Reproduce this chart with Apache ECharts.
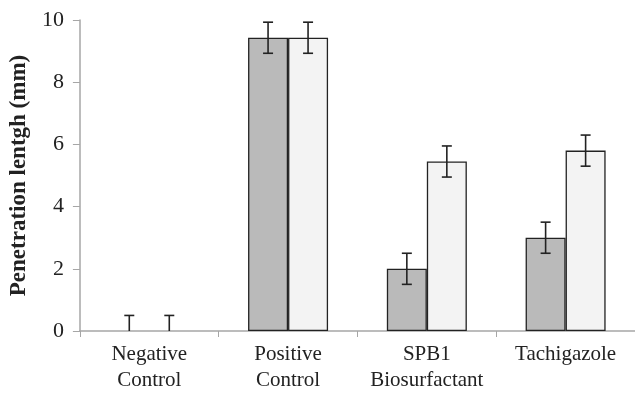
<!DOCTYPE html>
<html>
<head>
<meta charset="utf-8">
<script src="https://cdn.jsdelivr.net/npm/echarts@6/dist/echarts.min.js"></script>
<style>
  html, body { margin: 0; padding: 0; background: #fff; }
  #chart { width: 635px; height: 393px; }
</style>
</head>
<body>
<div id="chart"></div>
<script>
// values
const categories = ['Negative\nControl', 'Positive\nControl', 'SPB1\nBiosurfactant', 'Tachigazole']
const darkValues = [0, 9.43, 2.0, 3.0]
const darkErrors = [0.5, 0.5, 0.5, 0.5]
const lightValues = [0, 9.43, 5.45, 5.8]
const lightErrors = [0.5, 0.5, 0.5, 0.5]
const yTicks = [0, 2, 4, 6, 8, 10]

const BAR_W = 40
const font = 'Liberation Serif, Times New Roman, serif'

// zero-height bars get no outline, like the original
function barData (values) {
    return values.map(v => v === 0 ? { value: v, itemStyle: { borderWidth: 0 } } : v)
}

function errorSeries (values, errors, offset) {
    return {
        type: 'custom',
        silent: true,
        z: 10,
        data: values.map((v, i) => [i, v, errors[i]]),
        renderItem (params, api) {
            const idx = api.value(0)
            const v = api.value(1)
            const e = api.value(2)
            const lo = Math.max(0, v - e)
            const top = api.coord([idx, v + e])
            const bot = api.coord([idx, lo])
            const x = top[0] + offset
            const half = 5
            const style = { stroke: '#222', lineWidth: 1.6 }
            const children = [
                { type: 'line', shape: { x1: x, y1: top[1], x2: x, y2: bot[1] }, style },
                { type: 'line', shape: { x1: x - half, y1: top[1], x2: x + half, y2: top[1] }, style }
            ]
            if (v - e > 0) {
                children.push({ type: 'line', shape: { x1: x - half, y1: bot[1], x2: x + half, y2: bot[1] }, style })
            }
            return { type: 'group', children }
        }
    }
}

const chart = echarts.init(document.getElementById('chart'))
chart.setOption({
    animation: false,
    grid: { left: 78, right: 0, top: 20, bottom: 59 },
    xAxis: {
        type: 'category',
        data: categories,
        boundaryGap: true,
        axisLine: { lineStyle: { color: '#a6a6a6', width: 1.5 } },
        axisTick: { show: true, length: 6, lineStyle: { color: '#a6a6a6' } },
        axisLabel: {
            color: '#222',
            fontFamily: font,
            fontSize: 21,
            lineHeight: 26,
            margin: 10,
            interval: 0
        }
    },
    yAxis: {
        type: 'value',
        min: yTicks[0],
        max: yTicks[yTicks.length - 1],
        interval: 2,
        name: 'Penetration lentgh (mm)',
        nameLocation: 'middle',
        nameGap: 47,
        nameTextStyle: {
            color: '#222',
            fontFamily: font,
            fontSize: 23,
            fontWeight: 'bold'
        },
        axisLine: { show: true, lineStyle: { color: '#a6a6a6', width: 1.5 } },
        axisTick: { show: true, inside: false, length: 7, lineStyle: { color: '#a6a6a6' } },
        axisLabel: {
            color: '#222',
            fontFamily: font,
            fontSize: 22,
            margin: 16
        },
        splitLine: { show: false }
    },
    series: [
        {
            name: 'Group 1',
            type: 'bar',
            data: barData(darkValues),
            barWidth: BAR_W,
            barGap: '0%',
            itemStyle: { color: '#bababa', borderColor: '#222', borderWidth: 1.3 }
        },
        {
            name: 'Group 2',
            type: 'bar',
            data: barData(lightValues),
            barWidth: BAR_W,
            barGap: '0%',
            itemStyle: { color: '#f3f3f3', borderColor: '#222', borderWidth: 1.3 }
        },
        errorSeries(darkValues, darkErrors, -BAR_W / 2),
        errorSeries(lightValues, lightErrors, BAR_W / 2)
    ]
})
</script>
</body>
</html>
